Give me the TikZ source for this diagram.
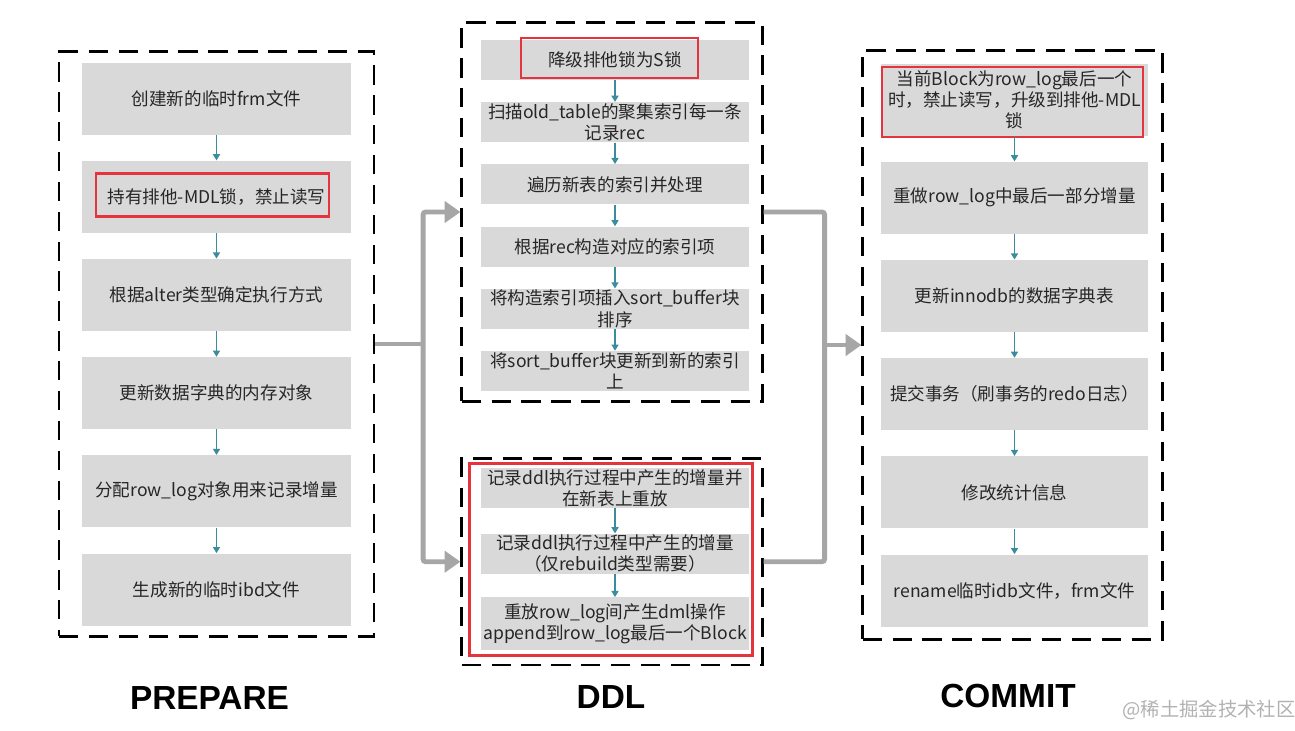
\documentclass[tikz,border=0pt]{standalone}
\usepackage{fontspec}
\setmainfont{Noto Sans CJK SC}
\newfontfamily\headfont{Liberation Sans}
\usetikzlibrary{positioning,fit,arrows.meta}
\definecolor{boxgray}{HTML}{D9D9D9}
\definecolor{linkteal}{HTML}{3B8C9C}
\definecolor{flowgray}{HTML}{A6A6A6}
\definecolor{alert}{HTML}{E5343D}

\begin{document}
\begin{tikzpicture}[every node/.style={font=\fontsize{10}{12}\selectfont,text=black!85},
      stage/.style={fill=boxgray,minimum width=5.38cm,minimum height=1.44cm,inner sep=0pt,align=center},
      ministage/.style={fill=boxgray,minimum width=5.36cm,minimum height=.8cm,inner sep=0pt,align=center},
      frame/.style={draw=black,line width=1.4pt,dash pattern=on 11pt off 6pt,inner sep=0pt},
      hot/.style={draw=alert,line width=1.6pt,inner sep=0pt},
      link/.style={-{Triangle[length=3.5pt,width=4pt]},line width=.8pt,linkteal},
      flow/.style={line width=2.8pt,flowgray,rounded corners=1.5pt},
      flowarrow/.style={flow,-{Triangle[length=9pt,width=12pt]}},
      phase/.style={font=\headfont\bfseries\fontsize{19}{22}\selectfont,text=black}]
      \fill[white] (0,0) rectangle (25.9,-14.6);
      \useasboundingbox (0,0) rectangle (25.9,-14.6);
      % prepare
      \node[stage] (frm) at (4.33,-1.97) {创建新的临时frm文件};
      \node[stage,below=.51cm of frm] (mdl) {持有排他-MDL锁，禁止读写};
      \node[stage,below=.51cm of mdl] (mode) {根据alter类型确定执行方式};
      \node[stage,below=.51cm of mode] (dict) {更新数据字典的内存对象};
      \node[stage,below=.51cm of dict] (rowlog) {分配row\_log对象用来记录增量};
      \node[stage,below=.51cm of rowlog] (ibd) {生成新的临时ibd文件};
      \node[hot,minimum width=4.66cm,minimum height=.86cm] (mdlMark) at ([xshift=-.08cm,yshift=.04cm]mdl.center) {};
      \draw[link] (frm)--(mdl); \draw[link] (mdl)--(mode); \draw[link] (mode)--(dict);
      \draw[link] (dict)--(rowlog); \draw[link] (rowlog)--(ibd);
      \node[frame,fit=(frm)(ibd),inner xsep=.45cm,inner ysep=.21cm] (prepFrame) {};
      % ddl
      \node[ministage] (downgrade) at (12.3,-1.2) {降级排他锁为S锁};
      \node[ministage,below=.43cm of downgrade] (scan) {扫描old\_table的聚集索引每一条\\记录rec};
      \node[ministage,below=.43cm of scan] (traverse) {遍历新表的索引并处理};
      \node[ministage,below=.43cm of traverse] (build) {根据rec构造对应的索引项};
      \node[ministage,below=.43cm of build] (sortbuf) {将构造索引项插入sort\_buffer块\\排序};
      \node[ministage,below=.43cm of sortbuf] (merge) {将sort\_buffer块更新到新的索引\\上};
      \node[hot,minimum width=3.54cm,minimum height=.8cm] (downMark) at ([xshift=-.11cm,yshift=.04cm]downgrade.center) {};
      \draw[link] (downgrade)--(scan); \draw[link] (scan)--(traverse); \draw[link] (traverse)--(build);
      \draw[link] (build)--(sortbuf); \draw[link] (sortbuf)--(merge);
      \node[frame,fit=(downgrade)(merge),inner xsep=.32cm,inner ysep=.27cm,xshift=-.06cm,yshift=.07cm] (ddlFrame) {};
      % row log
      \node[ministage] (replay) at (12.3,-9.76) {记录ddl执行过程中产生的增量并\\在新表上重放};
      \node[ministage,below=.5cm of replay] (record) {记录ddl执行过程中产生的增量\\（仅rebuild类型需要）};
      \node[ministage,minimum height=1.06cm,below=.46cm of record] (append) {重放row\_log间产生dml操作\\append到row\_log最后一个Block};
      \draw[link] (replay)--(record); \draw[link] (record)--(append);
      \node[hot,fit=(replay)(append),inner xsep=.15cm,inner ysep=.09cm,xshift=-.08cm] (logMark) {};
      \node[frame,fit=(replay)(append),inner xsep=.32cm,inner ysep=.23cm,xshift=-.06cm,yshift=-.05cm] (logFrame) {};
      % commit
      \node[stage,minimum width=5.34cm] (block) at (20.29,-1.99) {当前Block为row\_log最后一个\\时，禁止读写，升级到排他-MDL\\锁};
      \node[stage,minimum width=5.34cm,below=.51cm of block] (redo) {重做row\_log中最后一部分增量};
      \node[stage,minimum width=5.34cm,below=.51cm of redo] (innodb) {更新innodb的数据字典表};
      \node[stage,minimum width=5.34cm,below=.51cm of innodb] (commit) {提交事务（刷事务的redo日志）};
      \node[stage,minimum width=5.34cm,below=.51cm of commit] (stats) {修改统计信息};
      \node[stage,minimum width=5.34cm,below=.51cm of stats] (rename) {rename临时idb文件，frm文件};
      \node[hot,minimum width=5.22cm,minimum height=1.4cm] (blockMark) at ([xshift=-.04cm,yshift=-.05cm]block.center) {};
      \draw[link] (block)--(redo); \draw[link] (redo)--(innodb); \draw[link] (innodb)--(commit);
      \draw[link] (commit)--(stats); \draw[link] (stats)--(rename);
      \node[frame,fit=(block)(rename),inner xsep=.32cm,inner ysep=.25cm,xshift=-.04cm] (commitFrame) {};
      % flow between phases
      \draw[flow] (prepFrame.east) -- ++(.96,0) coordinate (fork);
      \draw[flowarrow] (fork) |- (ddlFrame.west);
      \draw[flowarrow] (fork) |- (logFrame.west);
      \draw[flow] (ddlFrame.east) -- ++(1.22,0) coordinate (join) |- (logFrame.east);
      \draw[flowarrow] (join |- commitFrame.west) -- (commitFrame.west);
      % labels
      \node[phase] (prepare) at (4.19,-13.96) {PREPARE};
      \node[phase] (ddl) at (12.22,-13.94) {DDL};
      \node[phase] (commitLabel) at (20.16,-13.92) {COMMIT};
      \node[font=\fontsize{11}{13}\selectfont,text=black!30] (mark) at (24.18,-14.2) {@稀土掘金技术社区};
    \end{tikzpicture}
\end{document}
